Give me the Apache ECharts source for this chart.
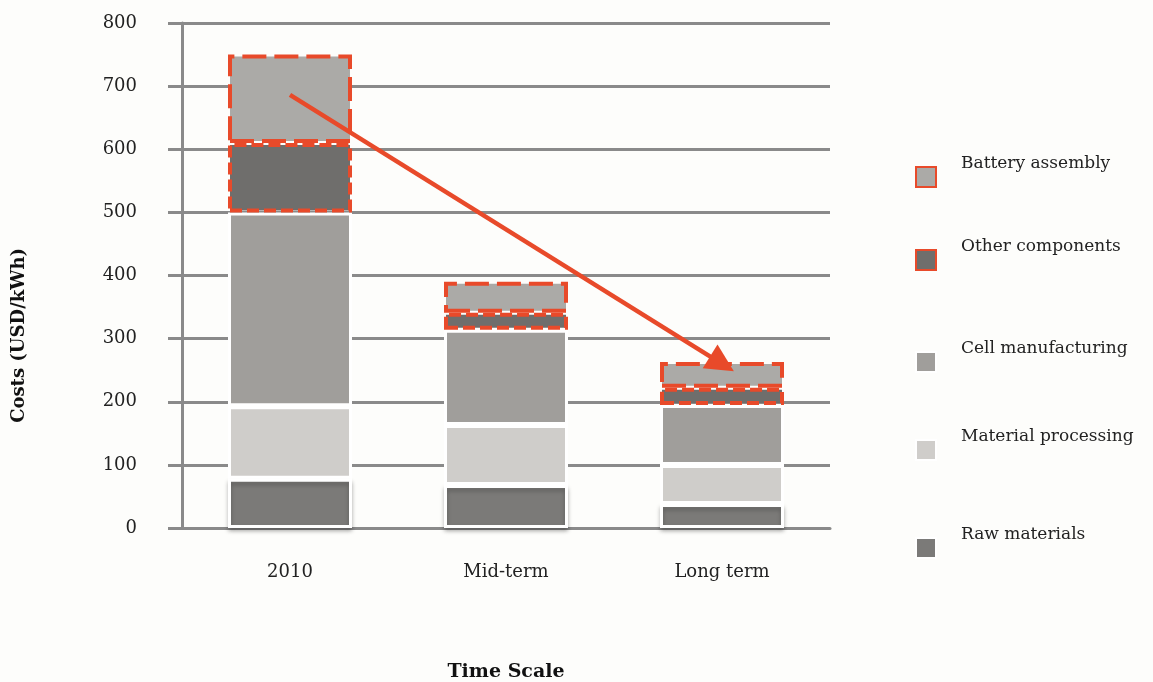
<!DOCTYPE html>
<html>
<head>
<meta charset="utf-8">
<script src="https://cdn.jsdelivr.net/npm/echarts@6/dist/echarts.min.js"></script>
<style>
  html, body { margin: 0; padding: 0; background: #fdfdfb; }
  #chart { width: 1153px; height: 682px; }
</style>
</head>
<body>
<div id="chart"></div>
<script>
// values (USD/kWh)
var categories = ['2010', 'Mid-term', 'Long term'];
var rawMaterials = [78, 68, 38];
var materialProcessing = [115, 95, 62];
var cellManufacturing = [307, 151, 95];
var otherComponents = [110, 27, 27];
var batteryAssembly = [140, 49, 41];
var yTicks = [0, 100, 200, 300, 400, 500, 600, 700, 800];
// trend arrow, from 2010 down to long term
var arrowFrom = ['2010', 686];
var arrowTo = ['Long term', 260];

var red = '#e84a2a';
var serif = 'DejaVu Serif';

var myChart = echarts.init(document.getElementById('chart'));

function legendAt(name, top) {
  return {
    data: [name],
    left: 915,
    top: top,
    padding: 0,
    orient: 'vertical',
    icon: 'rect',
    itemWidth: 20,
    itemHeight: 20,
    itemGap: 0,
    selectedMode: false,
    // second empty line lifts the label above the swatch, like the original
    formatter: function (n) { return n + '\n '; },
    textStyle: {
      fontFamily: serif,
      fontSize: 17,
      lineHeight: 26,
      color: '#222',
      padding: [0, 0, 0, 20]
    }
  };
}

var option = {
  backgroundColor: '#fdfdfb',
  animation: false,
  grid: { left: 182, right: 323, top: 23, bottom: 154, outerBoundsMode: 'none', containLabel: false },
  legend: [
    legendAt('Battery assembly', 151),
    legendAt('Other components', 234),
    legendAt('Cell manufacturing', 336),
    legendAt('Material processing', 424),
    legendAt('Raw materials', 522)
  ],
  xAxis: {
    type: 'category',
    data: categories,
    name: 'Time Scale',
    nameLocation: 'middle',
    nameGap: 135,
    nameTextStyle: { fontFamily: serif, fontSize: 19, fontWeight: 'bold', color: '#111' },
    axisLine: { lineStyle: { color: '#8a8a8a', width: 3 } },
    axisTick: { show: false },
    axisLabel: { fontFamily: serif, fontSize: 18, color: '#222', margin: 35 }
  },
  yAxis: {
    type: 'value',
    min: yTicks[0],
    max: yTicks[yTicks.length - 1],
    interval: 100,
    axisLine: { show: true, lineStyle: { color: '#8a8a8a', width: 3 } },
    axisTick: { show: true, length: 14, lineStyle: { color: '#8a8a8a', width: 3 } },
    axisLabel: { fontFamily: serif, fontSize: 18, color: '#222', margin: 45 },
    splitLine: { lineStyle: { color: '#8a8a8a', width: 3 } }
  },
  graphic: [{
    type: 'text',
    left: 10,
    top: 248,
    rotation: Math.PI / 2,
    style: {
      text: 'Costs (USD/kWh)',
      font: 'bold 18px "DejaVu Serif"',
      fill: '#111'
    }
  }],
  series: [
    {
      name: 'Raw materials',
      type: 'bar',
      stack: 'cost',
      barWidth: 124,
      data: rawMaterials,
      itemStyle: {
        color: '#7b7a78', borderColor: '#ffffff', borderWidth: 3,
        shadowColor: 'rgba(0,0,0,0.25)', shadowBlur: 4, shadowOffsetY: 3
      }
    },
    {
      name: 'Material processing',
      type: 'bar',
      stack: 'cost',
      data: materialProcessing,
      itemStyle: { color: '#cfcdca', borderColor: '#ffffff', borderWidth: 3 }
    },
    {
      name: 'Cell manufacturing',
      type: 'bar',
      stack: 'cost',
      data: cellManufacturing,
      itemStyle: { color: '#a09e9b', borderColor: '#ffffff', borderWidth: 3 }
    },
    {
      name: 'Other components',
      type: 'bar',
      stack: 'cost',
      data: otherComponents,
      itemStyle: { color: '#6f6e6c', borderColor: red, borderWidth: 4, borderType: [12, 5] }
    },
    {
      name: 'Battery assembly',
      type: 'bar',
      stack: 'cost',
      data: batteryAssembly,
      itemStyle: { color: '#abaaa7', borderColor: red, borderWidth: 4, borderType: [24, 8] },
      markLine: {
        silent: true,
        symbol: ['none', 'triangle'],
        symbolSize: 28,
        lineStyle: { color: red, width: 4.5, type: 'solid' },
        label: { show: false },
        emphasis: { disabled: true },
        data: [[{ coord: arrowFrom }, { coord: arrowTo }]]
      }
    }
  ]
};

myChart.setOption(option);
</script>
</body>
</html>
